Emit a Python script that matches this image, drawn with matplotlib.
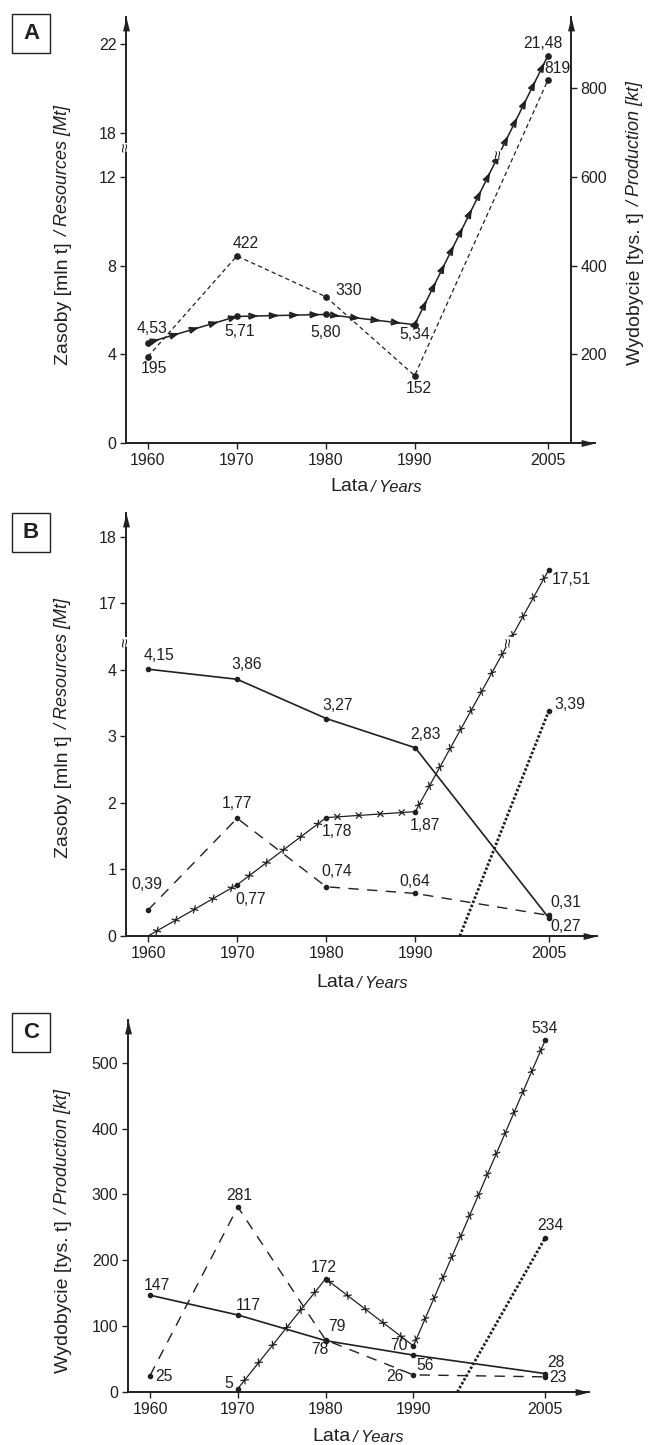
import numpy as np
import matplotlib
matplotlib.use('Agg')
import matplotlib.pyplot as plt
from matplotlib.path import Path
from matplotlib.patches import Rectangle
from matplotlib import patheffects as pe

plt.rcParams['font.family'] = ['Liberation Sans', 'DejaVu Sans']

INK = '#231f20'
W, H = 648, 1445

# ---- data ----
years = [1960, 1970, 1980, 1990, 2005]
year_ticks = [1960, 1970, 1980, 1990, 2005]

# A: resources (mln t, left axis) and production (tys. t, right axis)
a_resources = [4.53, 5.71, 5.80, 5.34, 21.48]
a_production = [195, 422, 330, 152, 819]
a_left_ticks = [0, 4, 8, 12, 18, 22]
a_right_ticks = [200, 400, 600, 800]

# B: resources (mln t)
b_solid = [4.15, 3.86, 3.27, 2.83, 0.27]
b_dashed = [0.39, 1.77, 0.74, 0.64, 0.31]
b_cross_years = [1960, 1970, 1980, 1990, 2005]
b_cross = [0, 0.77, 1.78, 1.87, 17.51]
b_dotted_years = [1995, 2005]
b_dotted = [0, 3.39]
b_ticks = [0, 1, 2, 3, 4, 17, 18]

# C: production (tys. t)
c_solid = [147, 117, 78, 56, 28]
c_dashed = [25, 281, 79, 26, 23]
c_cross_years = [1970, 1980, 1990, 2005]
c_cross = [5, 172, 70, 534]
c_dotted_years = [1995, 2005]
c_dotted = [0, 234]
c_ticks = [0, 100, 200, 300, 400, 500]

# label offsets (pixels) relative to each point
a_res_off = [(4, 14), (3, -15), (0, -18), (0, -10), (-5, 12)]
a_prod_off = [(6, -12), (9, 12), (23, 6), (4, -13), (10, 11)]
b_solid_off = [(11, 14), (10, 15), (11, 13), (10, 13), (17, -8)]
b_dashed_off = [(-1, 26), (0, 15), (11, 15), (0, 12), (17, 13)]
b_cross_off = [None, (14, -15), (11, -14), (10, -14), (22, -10)]
b_dotted_off = [None, (21, 6)]
c_solid_off = [(7, 10), (10, 9), (-6, -9), (12, -10), (11, 11)]
c_dashed_off = [(14, -1), (1, 11), (11, 13), (-18, -2), (13, -1)]
c_cross_off = [(-9, 5), (-2, 11), (-14, 0), (0, 12)]
c_dotted_off = [None, (5, 12)]

ARROW_UP = Path([(0, 0), (-0.25, -1), (0.25, -1), (0, 0)],
                [Path.MOVETO, Path.LINETO, Path.LINETO, Path.CLOSEPOLY])
ARROW_RIGHT = Path([(0, 0), (-1, 0.25), (-1, -0.25), (0, 0)],
                   [Path.MOVETO, Path.LINETO, Path.LINETO, Path.CLOSEPOLY])


def break_scale(lo, hi, gap):
    def fwd(v):
        v = np.asarray(v, float)
        return np.where(v <= lo, v, np.where(v >= hi, v - (hi - lo) + gap,
                                             lo + (v - lo) * gap / (hi - lo)))

    def inv(u):
        u = np.asarray(u, float)
        return np.where(u <= lo, u, np.where(u >= lo + gap, u + (hi - lo) - gap,
                                             lo + (u - lo) * (hi - lo) / gap))
    return fwd, inv


def cross_effects(spacing, arm):
    # small "x" marks at equal distances along the line
    return [pe.Normal()] + [pe.TickedStroke(spacing=spacing, angle=a, length=arm / spacing)
                            for a in (45, 135, -45, -135)]


def arrow_effects(spacing, head):
    # arrowheads pointing along the direction of the line
    return [pe.Normal()] + [pe.TickedStroke(spacing=spacing, angle=a, length=head / spacing,
                                            linewidth=0.9)
                            for a in (158, 164, 170, -158, -164, -170)]


def rect_px(left, top, right, bottom):
    return [left / W, 1 - bottom / H, (right - left) / W, (bottom - top) / H]


fig = plt.figure(figsize=(W / 100, H / 100), dpi=100)


def make_axes(frame, xlim, ylim, yticks, scale=None):
    ax = fig.add_axes(rect_px(*frame))
    ax.patch.set_visible(False)
    if scale is not None:
        ax.set_yscale('function', functions=scale)
    ax.set_xlim(xlim)
    ax.set_ylim(ylim)
    ax.spines['top'].set_visible(False)
    ax.spines['right'].set_visible(False)
    for s in ('left', 'bottom'):
        ax.spines[s].set_linewidth(1.4)
        ax.spines[s].set_color(INK)
    ax.set_xticks(year_ticks)
    ax.set_yticks(yticks)
    ax.set_yticklabels([str(t) for t in yticks])
    ax.tick_params(direction='out', length=4, width=1, colors=INK, labelsize=11.5)
    ax.tick_params(axis='x', pad=3.5)
    ax.tick_params(axis='y', pad=3)
    ax.plot([0], [1], transform=ax.transAxes, marker=ARROW_UP, ms=20, mew=0,
            color=INK, clip_on=False)
    ax.plot([1], [0], transform=ax.transAxes, marker=ARROW_RIGHT, ms=20, mew=0,
            color=INK, clip_on=False)
    return ax


def label_points(ax, xs, ys, offsets, fmt, size=11.3):
    for x, y, off in zip(xs, ys, offsets):
        if off is None:
            continue
        ax.annotate(fmt(y), (x, y), xytext=off, textcoords='offset pixels',
                    ha='center', va='center', fontsize=size, color=INK)


def comma2(v):
    return f'{v:.2f}'.replace('.', ',')


def integer(v):
    return f'{v:d}'


def break_mark(ax, x, y):
    ax.text(x, y, '≈', rotation=90, ha='center', va='center', fontsize=12, color=INK,
            bbox=dict(boxstyle='square,pad=0.0', fc='white', ec='none'),
            zorder=10, clip_on=False)


def line_break_x(xs, ys, fwd, u_break):
    u = fwd(ys)
    for i in range(len(xs) - 1):
        if (u[i] - u_break) * (u[i + 1] - u_break) < 0:
            f = (u_break - u[i]) / (u[i + 1] - u[i])
            return xs[i] + f * (xs[i + 1] - xs[i])
    return None


def panel_box(letter, top):
    fig.add_artist(Rectangle((12 / W, 1 - (top + 39) / H), 38 / W, 39 / H,
                             transform=fig.transFigure, fill=False, lw=1.0, ec=INK))
    fig.text(31 / W, 1 - (top + 19.5) / H, letter, ha='center', va='center',
             fontsize=16, fontweight='bold', color=INK)


def ylabel_two(ax, x, bottom, regular, italic):
    t1 = fig.text(x / W, 1 - bottom / H, regular, rotation=90, ha='center', va='bottom',
                  fontsize=14, color=INK)
    ax.annotate(italic, xy=(0.5, 1.0), xycoords=t1, xytext=(0, 5),
                textcoords='offset pixels', rotation=90, ha='center', va='bottom',
                fontsize=13, fontstyle='italic', color=INK)


def xlabel_two(ax, x, baseline):
    t1 = fig.text(x / W, 1 - baseline / H, 'Lata', ha='left', va='baseline',
                  fontsize=14, color=INK)
    ax.annotate('/ Years', xy=(1.0, 0.0), xycoords=t1, xytext=(3, 0),
                textcoords='offset pixels', ha='left', va='bottom',
                fontsize=12, fontstyle='italic', color=INK)


# ================= A =================
a_fwd, a_inv = break_scale(12, 18, 2)
axA = make_axes((126, 17, 595, 443), (1957.525, 2010.29), (0, 23.22), a_left_ticks,
                scale=(a_fwd, a_inv))
axA2 = axA.twinx()
axA2.patch.set_visible(False)
axA2.set_ylim(0, 961)
for s in ('top', 'left', 'bottom'):
    axA2.spines[s].set_visible(False)
axA2.spines['right'].set_position(('data', 2007.59))
axA2.spines['right'].set_linewidth(1.4)
axA2.spines['right'].set_color(INK)
axA2.set_yticks(a_right_ticks)
axA2.set_yticklabels([str(t) for t in a_right_ticks])
axA2.tick_params(direction='out', length=4, width=1, colors=INK, labelsize=11.5, pad=3)
axA2.plot([2007.59], [961], marker=ARROW_UP, ms=20, mew=0, color=INK, clip_on=False)

axA.plot(years, a_resources, color=INK, lw=1.1, path_effects=arrow_effects(14.5, 5.5))
axA.plot(years, a_resources, 'o', ms=3.8, color=INK)
axA2.plot(years, a_production, color=INK, lw=0.9, ls=(0, (3.5, 2.5)),
          marker='o', ms=3.8)

label_points(axA, years, a_resources, a_res_off, comma2)
label_points(axA2, years, a_production, a_prod_off, integer)

break_mark(axA, axA.get_xlim()[0], a_inv(13.35))
xb = line_break_x(years, a_resources, a_fwd, 13.0)
break_mark(axA, xb, a_inv(13.0))

panel_box('A', 14)
ylabel_two(axA, 64, 365, 'Zasoby [mln t]', '/ Resources [Mt]')
ylabel_two(axA, 636, 365, 'Wydobycie [tys. t]', '/ Production [kt]')
xlabel_two(axA, 330, 491)

# ================= B =================
b_fwd, b_inv = break_scale(4, 17, 1)
axB = make_axes((126, 513, 597, 936), (1957.525, 2010.4), (0, 18.36), b_ticks,
                scale=(b_fwd, b_inv))
axB.plot(years, b_solid, color=INK, lw=1.2, marker='o', ms=3)
axB.plot(years, b_dashed, color=INK, lw=1.0, ls=(0, (7.5, 6)), marker='o', ms=3)
axB.plot(b_cross_years, b_cross, color=INK, lw=0.9, path_effects=cross_effects(15, 2.6))
axB.plot(b_cross_years[1:], b_cross[1:], 'o', ms=3, color=INK)
axB.plot(b_dotted_years, b_dotted, color=INK, lw=2.0, ls=(0, (0.9, 0.7)))
axB.plot(b_dotted_years[1:], b_dotted[1:], 'o', ms=3, color=INK)

label_points(axB, years, b_solid, b_solid_off, comma2)
label_points(axB, years, b_dashed, b_dashed_off, comma2)
label_points(axB, b_cross_years, b_cross, b_cross_off, comma2)
label_points(axB, b_dotted_years, b_dotted, b_dotted_off, comma2)

break_mark(axB, axB.get_xlim()[0], b_inv(4.42))
xb = line_break_x(b_cross_years, b_cross, b_fwd, 4.42)
break_mark(axB, xb, b_inv(4.42))

panel_box('B', 513)
ylabel_two(axB, 64, 858, 'Zasoby [mln t]', '/ Resources [Mt]')
xlabel_two(axB, 316, 987)

# ================= C =================
axC = make_axes((128, 1020, 589, 1392), (1957.49, 2010.0), (0, 565), c_ticks)
axC.plot(years, c_solid, color=INK, lw=1.2, marker='o', ms=3)
axC.plot(years, c_dashed, color=INK, lw=1.0, ls=(0, (7.5, 6)), marker='o', ms=3)
axC.plot(c_cross_years, c_cross, color=INK, lw=0.9, path_effects=cross_effects(15.8, 2.6))
axC.plot(c_cross_years, c_cross, 'o', ms=3, color=INK)
axC.plot(c_dotted_years, c_dotted, color=INK, lw=2.0, ls=(0, (0.9, 0.7)))
axC.plot(c_dotted_years[1:], c_dotted[1:], 'o', ms=3, color=INK)

label_points(axC, years, c_solid, c_solid_off, integer)
label_points(axC, years, c_dashed, c_dashed_off, integer)
label_points(axC, c_cross_years, c_cross, c_cross_off, integer)
label_points(axC, c_dotted_years, c_dotted, c_dotted_off, integer)

panel_box('C', 1013)
ylabel_two(axC, 64, 1373, 'Wydobycie [tys. t]', '/ Production [kt]')
xlabel_two(axC, 312, 1441)

fig.savefig('out.png', dpi=100)
